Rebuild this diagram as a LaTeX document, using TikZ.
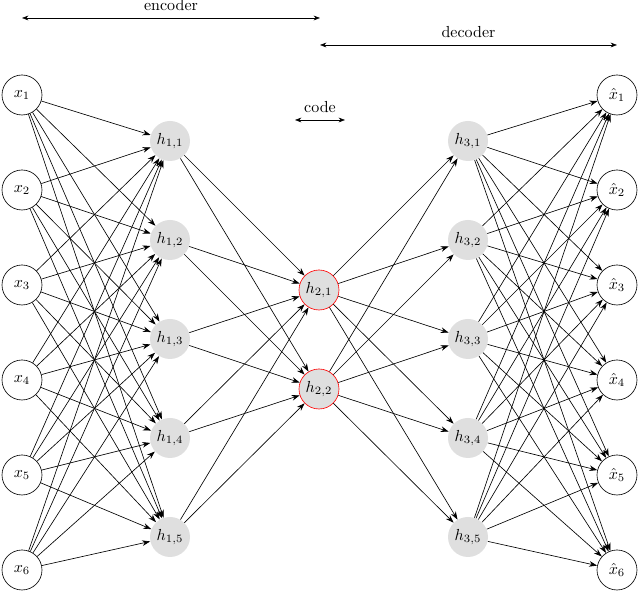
\documentclass[tikz,border=0pt]{standalone}
\usetikzlibrary{arrows.meta}
\begin{document}
\begin{tikzpicture}[x=0.625pt,y=-0.625pt,
  inp/.style={circle,draw,minimum size=25pt,inner sep=0pt},
  hid/.style={circle,fill=gray!25,minimum size=25pt,inner sep=0pt},
  cod/.style={circle,fill=gray!25,draw=red,minimum size=25pt,inner sep=0pt},
  con/.style={-{Stealth[length=5pt,width=3.5pt]},line width=0.4pt},
  dim/.style={{Stealth[length=4pt,width=3pt]}-{Stealth[length=4pt,width=3pt]},line width=0.4pt}]
\useasboundingbox (0,0) rectangle (640,613);
\foreach \i/\y in {1/95,2/190,3/285,4/380,5/475,6/570}{
  \node[inp] (x\i) at (22,\y) {$x_{\i}$};
  \node[inp] (o\i) at (617,\y) {$\hat{x}_{\i}$};
}
\foreach \i/\y in {1/141,2/240,3/339,4/438,5/537}{
  \node[hid] (a\i) at (170,\y) {$h_{1,\i}$};
  \node[hid] (c\i) at (468,\y) {$h_{3,\i}$};
}
\node[cod] (b1) at (319,290) {$h_{2,1}$};
\node[cod] (b2) at (319,389) {$h_{2,2}$};
\foreach \i in {1,...,6}\foreach \j in {1,...,5}{
  \draw[con] (x\i) -- (a\j);
  \draw[con] (c\j) -- (o\i);
}
\foreach \j in {1,...,5}\foreach \k in {1,2}{
  \draw[con] (a\j) -- (b\k);
  \draw[con] (b\k) -- (c\j);
}
\coordinate (e1) at (22,18); \coordinate (e2) at (320,18);
\draw[dim] (e1) -- node[above=1pt] {encoder} (e2);
\coordinate (d1) at (320,45); \coordinate (d2) at (617,45);
\draw[dim] (d1) -- node[above=1pt] {decoder} (d2);
\coordinate (k1) at (295,120); \coordinate (k2) at (345,120);
\draw[dim] (k1) -- node[above=1pt] {code} (k2);
\end{tikzpicture}
\end{document}
